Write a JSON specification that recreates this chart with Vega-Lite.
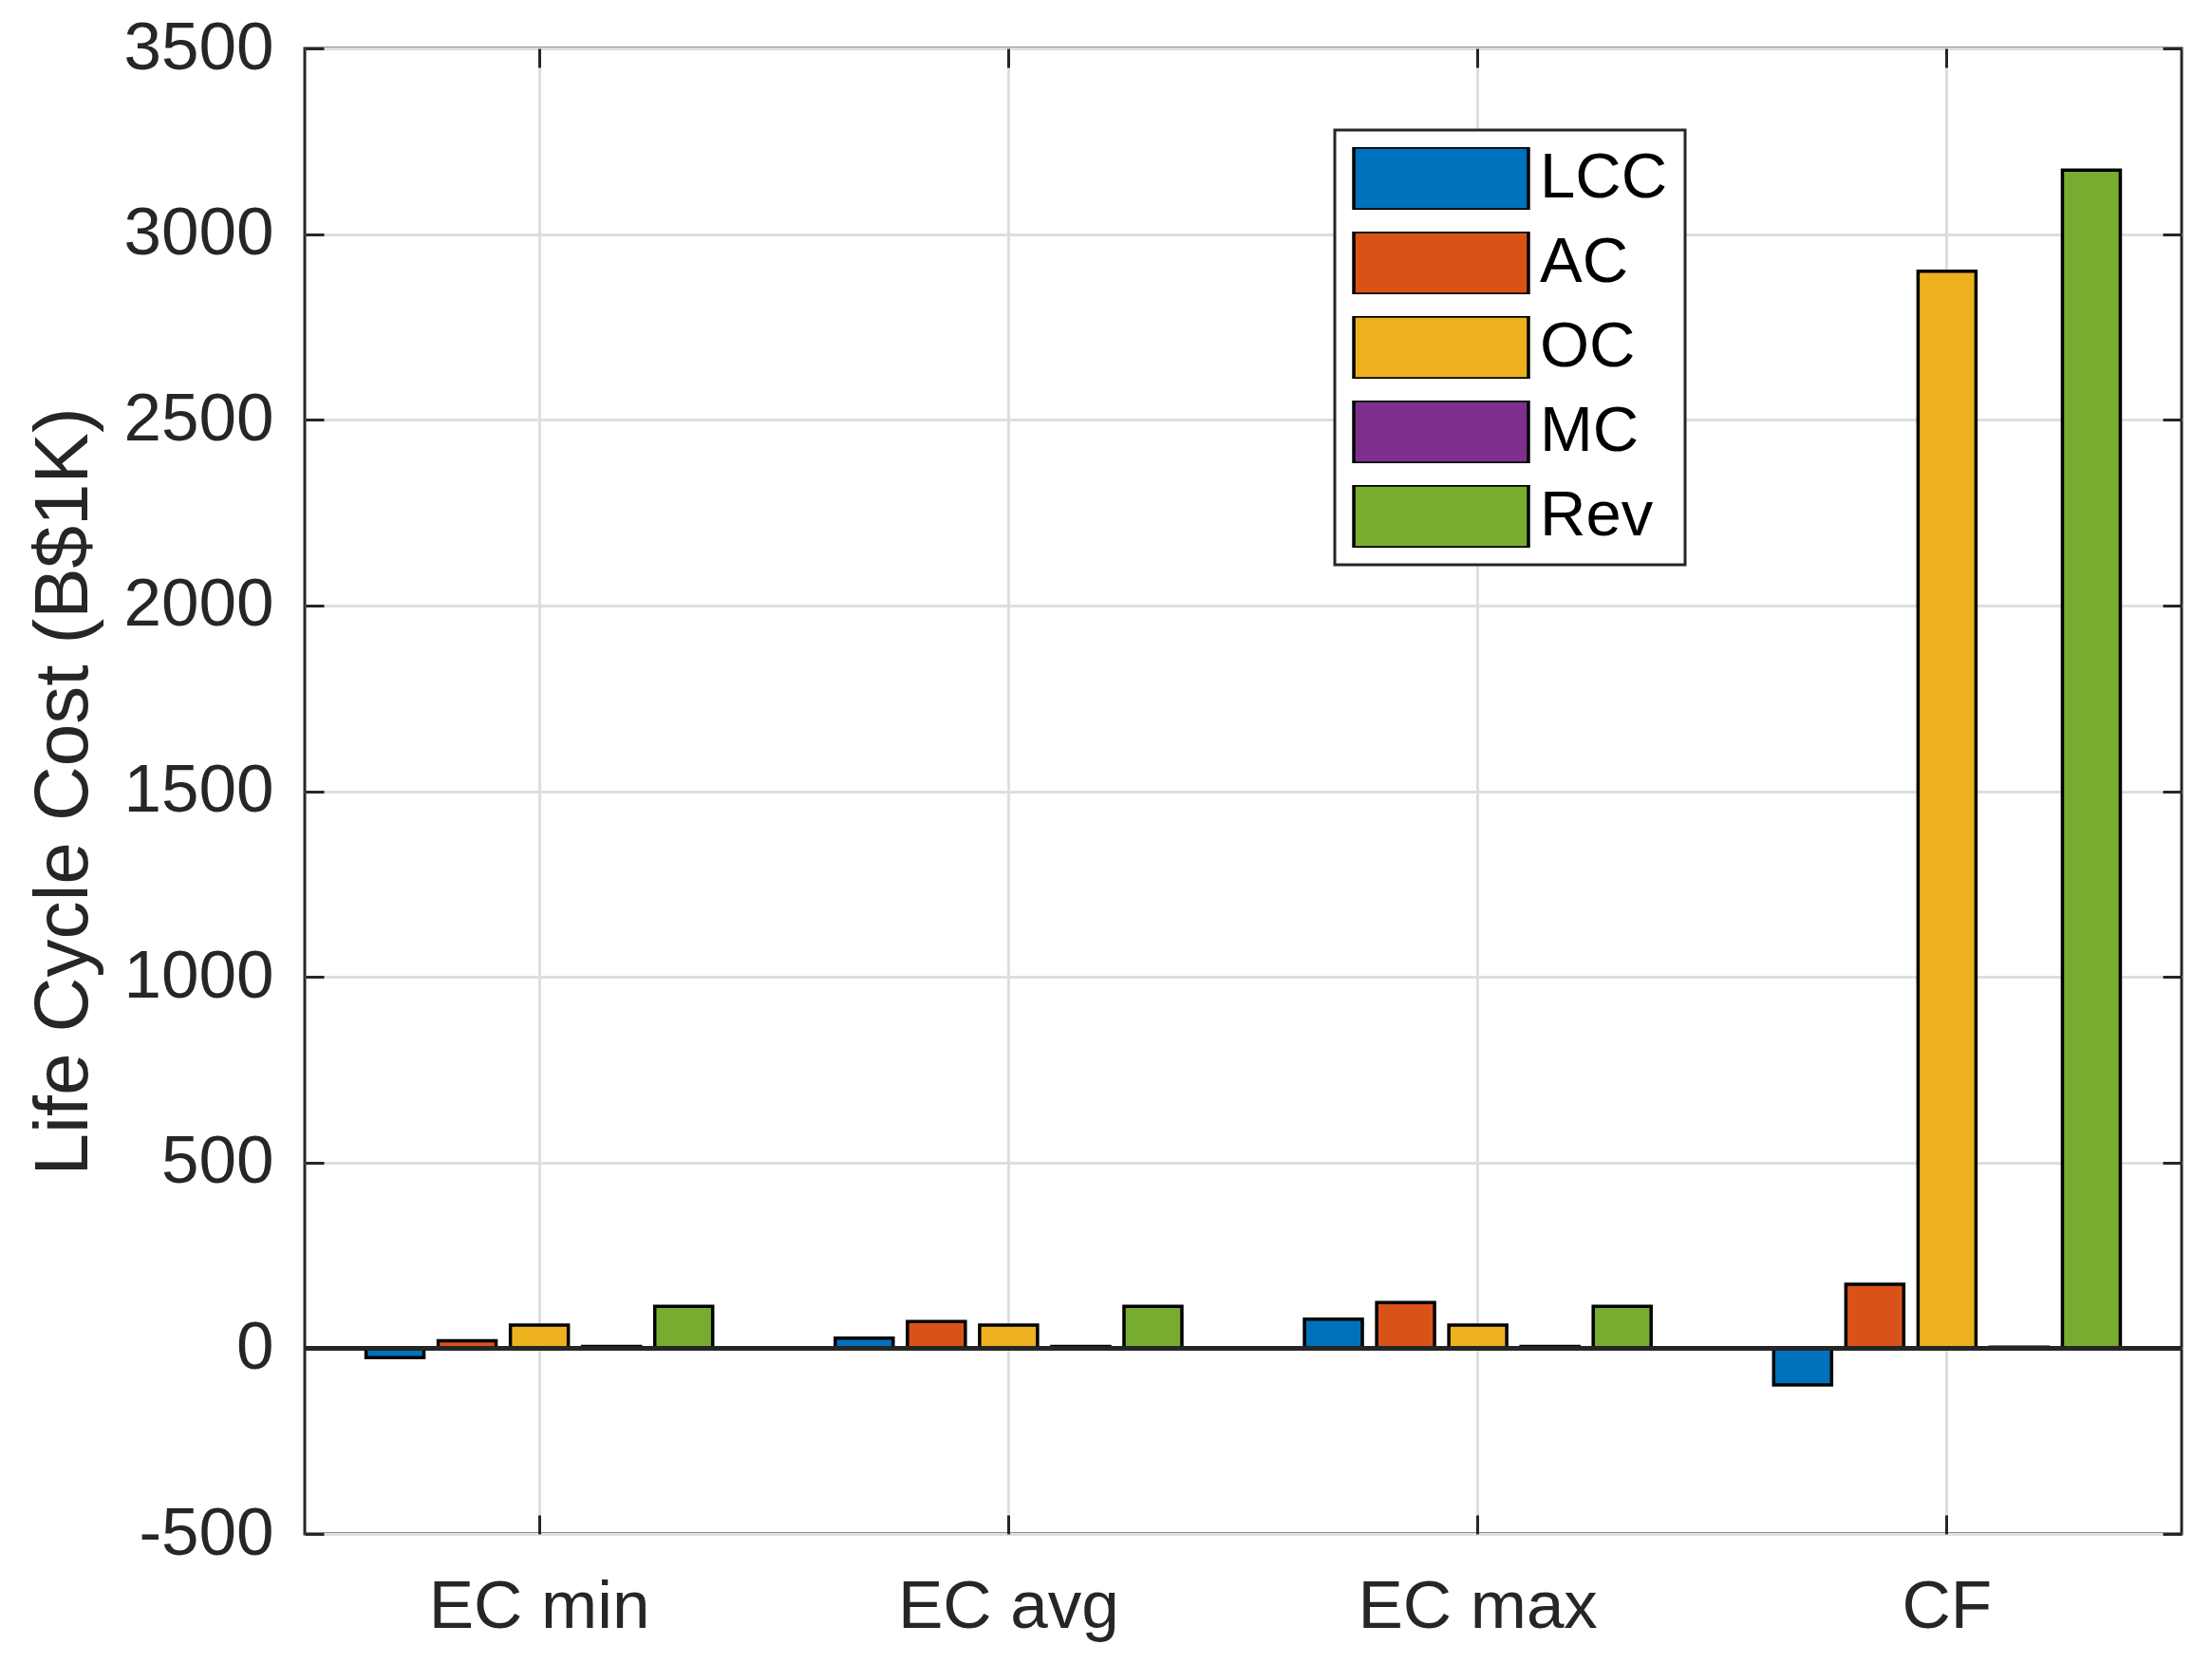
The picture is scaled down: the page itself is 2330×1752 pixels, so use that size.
{
  "$schema": "https://vega.github.io/schema/vega-lite/v6.json",
  "width": 1977,
  "height": 1565,
  "autosize": {"type": "none"},
  "padding": {"left": 321, "top": 51, "right": 32, "bottom": 136},
  "background": "white",
  "config": {
    "font": "Liberation Sans",
    "view": {"stroke": "#262626", "strokeWidth": 3},
    "legend": {"strokeWidth": 3},
    "axis": {
      "domain": false,
      "tickColor": "#262626",
      "tickWidth": 3,
      "tickSize": -20,
      "labelColor": "#262626",
      "labelFont": "Liberation Sans",
      "labelFontSize": 71,
      "labelLimit": 0,
      "gridColor": "#dedede",
      "gridWidth": 3,
      "titleColor": "#262626",
      "titleFont": "Liberation Sans",
      "titleFontSize": 80,
      "titleFontWeight": "normal"
    }
  },
  "data": {
    "values": [
      {"case": "EC min", "cost": "LCC", "value": -25},
      {"case": "EC min", "cost": "AC", "value": 20},
      {"case": "EC min", "cost": "OC", "value": 62},
      {"case": "EC min", "cost": "MC", "value": 5},
      {"case": "EC min", "cost": "Rev", "value": 113},
      {"case": "EC avg", "cost": "LCC", "value": 27},
      {"case": "EC avg", "cost": "AC", "value": 72},
      {"case": "EC avg", "cost": "OC", "value": 62},
      {"case": "EC avg", "cost": "MC", "value": 5},
      {"case": "EC avg", "cost": "Rev", "value": 113},
      {"case": "EC max", "cost": "LCC", "value": 78},
      {"case": "EC max", "cost": "AC", "value": 123},
      {"case": "EC max", "cost": "OC", "value": 62},
      {"case": "EC max", "cost": "MC", "value": 5},
      {"case": "EC max", "cost": "Rev", "value": 113},
      {"case": "CF", "cost": "LCC", "value": -99},
      {"case": "CF", "cost": "AC", "value": 172},
      {"case": "CF", "cost": "OC", "value": 2900},
      {"case": "CF", "cost": "MC", "value": 3},
      {"case": "CF", "cost": "Rev", "value": 3172}
    ]
  },
  "layer": [
    {
      "mark": {"type": "bar", "stroke": "black", "strokeWidth": 3.5, "width": 61},
      "encoding": {
        "x": {
          "field": "case", "type": "nominal",
          "sort": ["EC min", "EC avg", "EC max", "CF"],
          "scale": {"paddingInner": 0, "paddingOuter": 0},
          "axis": {"title": null, "orient": "bottom", "domain": false, "labelAngle": 0, "grid": true, "bandPosition": 0.5, "labelPadding": 62}
        },
        "xOffset": {
          "field": "cost", "type": "nominal",
          "sort": ["LCC", "AC", "OC", "MC", "Rev"],
          "scale": {"paddingInner": 0.2, "paddingOuter": 0.85}
        },
        "y": {
          "field": "value", "type": "quantitative",
          "scale": {"domain": [-500, 3500], "nice": false, "zero": false},
          "axis": {"title": "Life Cycle Cost (B$1K)", "orient": "left", "domain": false, "values": [-500, 0, 500, 1000, 1500, 2000, 2500, 3000, 3500], "labelExpr": "'' + datum.value", "grid": true, "labelPadding": 53, "titlePadding": 22}
        },
        "color": {
          "field": "cost", "type": "nominal",
          "sort": ["LCC", "AC", "OC", "MC", "Rev"],
          "scale": {"domain": ["LCC", "AC", "OC", "MC", "Rev"], "range": ["#0072BD", "#D95319", "#EDB120", "#7E2F8E", "#77AC30"]},
          "legend": {
            "title": null,
            "orient": "none",
            "legendX": 1085,
            "legendY": 86,
            "fillColor": "white",
            "strokeColor": "#262626",
            "cornerRadius": 0,
            "padding": 18,
            "rowPadding": 22,
            "clipHeight": 66,
            "symbolType": "M-1,-0.36H1V0.36H-1Z",
            "symbolSize": 33856,
            "symbolStrokeColor": "black",
            "symbolStrokeWidth": 3.5,
            "symbolOpacity": 1,
            "labelFont": "Liberation Sans",
            "labelFontSize": 67,
            "labelColor": "black",
            "labelOffset": 10
          }
        }
      }
    },
    {
      "mark": {"type": "bar", "opacity": 0, "width": 61},
      "encoding": {
        "x": {
          "field": "case", "type": "nominal",
          "sort": ["EC min", "EC avg", "EC max", "CF"],
          "axis": {"title": null, "orient": "top", "domain": false, "labels": false, "grid": false, "bandPosition": 0.5}
        },
        "xOffset": {"field": "cost", "type": "nominal", "sort": ["LCC", "AC", "OC", "MC", "Rev"]},
        "y": {
          "field": "value", "type": "quantitative",
          "axis": {"title": null, "orient": "right", "domain": false, "labels": false, "grid": false, "values": [-500, 0, 500, 1000, 1500, 2000, 2500, 3000, 3500]}
        }
      }
    },
    {
      "mark": {"type": "rule", "color": "#262626", "strokeWidth": 3.5},
      "encoding": {
        "y": {"datum": 0, "type": "quantitative", "axis": null}
      }
    }
  ],
  "resolve": {"axis": {"x": "independent", "y": "independent"}}
}
